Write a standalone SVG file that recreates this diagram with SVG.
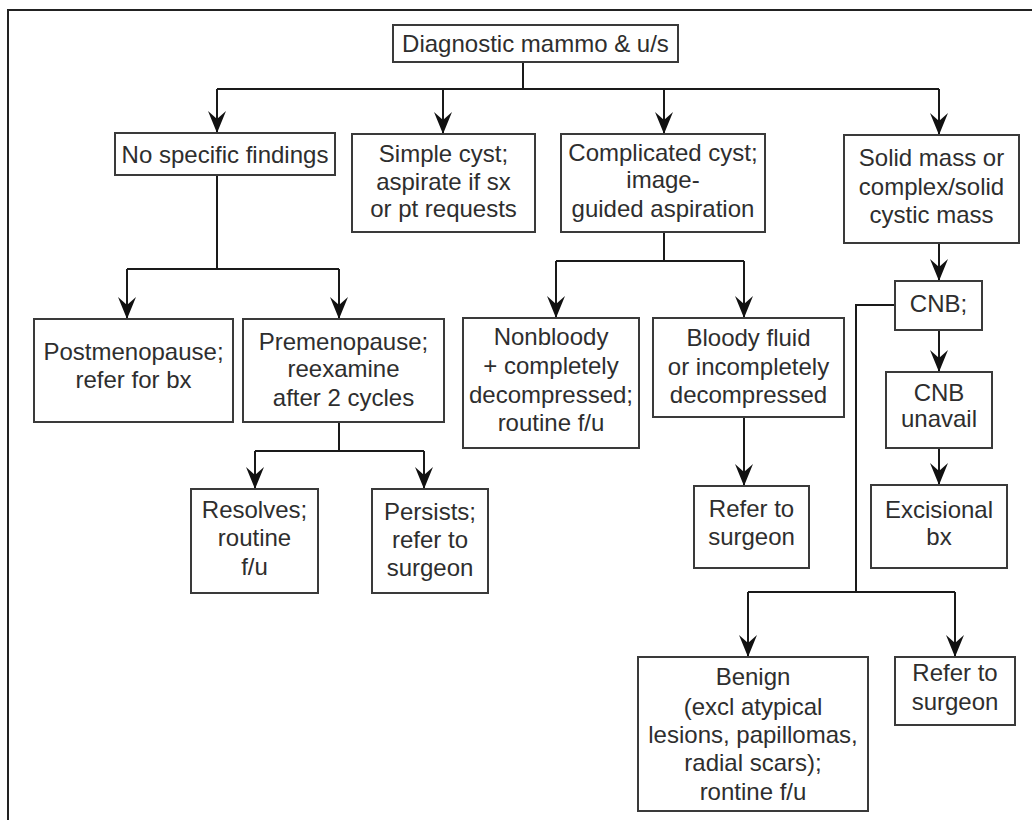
<svg xmlns="http://www.w3.org/2000/svg" width="1032" height="820" viewBox="0 0 1032 820">
<defs>
<marker id="ah" markerUnits="userSpaceOnUse" viewBox="0 0 22 18" markerWidth="22" markerHeight="18" refX="22" refY="9" orient="auto">
<path d="M0,0 L22,9 L0,18 L8,9 Z" fill="#111"/>
</marker>
<style>
.box{fill:#fff;stroke:#3a3a3a;stroke-width:2}
.t{font-family:"Liberation Sans",Arial,sans-serif;font-size:24px;fill:#2e2e2e;text-anchor:middle}
.c{fill:none;stroke:#1a1a1a;stroke-width:2}
.a{fill:none;stroke:#1a1a1a;stroke-width:2;marker-end:url(#ah)}
</style>
</defs>
<rect width="1032" height="820" fill="#fff"/>
<path d="M8,820 V10 H1032" fill="none" stroke="#222" stroke-width="2"/>
<g id="connectors">
<path class="c" d="M523,62 V89 M217,89 H939"/>
<path class="a" d="M217,89 V133"/>
<path class="a" d="M443,89 V134"/>
<path class="a" d="M664,89 V134"/>
<path class="a" d="M939,89 V135"/>
<path class="c" d="M217,175 V269 M127,269 H339"/>
<path class="a" d="M127,269 V319"/>
<path class="a" d="M339,269 V319"/>
<path class="c" d="M339,422 V451 M255,451 H424"/>
<path class="a" d="M255,451 V489"/>
<path class="a" d="M424,451 V489"/>
<path class="c" d="M664,232 V261 M556,261 H744"/>
<path class="a" d="M556,261 V318"/>
<path class="a" d="M744,261 V318"/>
<path class="a" d="M744,417 V486"/>
<path class="a" d="M939,243 V281"/>
<path class="a" d="M939,330 V372"/>
<path class="a" d="M939,448 V485"/>
<path class="c" d="M895,305 H856 V592 M748,592 H955"/>
<path class="a" d="M748,592 V657"/>
<path class="a" d="M955,592 V657"/>
</g>
<g id="n-top"><rect class="box" x="393" y="25" width="285" height="37"/><text class="t" x="535.5" y="52">Diagnostic mammo &amp; u/s</text></g>
<g id="n-nsf"><rect class="box" x="115" y="133" width="220" height="42"/><text class="t" x="225" y="163">No specific findings</text></g>
<g id="n-simple"><rect class="box" x="352" y="134" width="183" height="98"/><text class="t" x="443.5" y="162">Simple cyst;</text><text class="t" x="443.5" y="190">aspirate if sx</text><text class="t" x="443.5" y="217">or pt requests</text></g>
<g id="n-complicated"><rect class="box" x="561" y="134" width="204" height="98"/><text class="t" x="663" y="161">Complicated cyst;</text><text class="t" x="663" y="188">image-</text><text class="t" x="663" y="217">guided aspiration</text></g>
<g id="n-solid"><rect class="box" x="844" y="135" width="175" height="108"/><text class="t" x="931.5" y="166">Solid mass or</text><text class="t" x="931.5" y="195">complex/solid</text><text class="t" x="931.5" y="223">cystic mass</text></g>
<g id="n-post"><rect class="box" x="34" y="319" width="199" height="103"/><text class="t" x="133.5" y="360">Postmenopause;</text><text class="t" x="133.5" y="388">refer for bx</text></g>
<g id="n-pre"><rect class="box" x="243" y="319" width="201" height="103"/><text class="t" x="343.5" y="350">Premenopause;</text><text class="t" x="343.5" y="377">reexamine</text><text class="t" x="343.5" y="406">after 2 cycles</text></g>
<g id="n-nonbloody"><rect class="box" x="463" y="318" width="176" height="130"/><text class="t" x="551" y="345">Nonbloody</text><text class="t" x="551" y="374">+ completely</text><text class="t" x="551" y="403">decompressed;</text><text class="t" x="551" y="431">routine f/u</text></g>
<g id="n-bloody"><rect class="box" x="653" y="318" width="191" height="99"/><text class="t" x="748.5" y="346">Bloody fluid</text><text class="t" x="748.5" y="375">or incompletely</text><text class="t" x="748.5" y="403">decompressed</text></g>
<g id="n-refer1"><rect class="box" x="694" y="486" width="115" height="82"/><text class="t" x="751.5" y="517">Refer to</text><text class="t" x="751.5" y="545">surgeon</text></g>
<g id="n-cnb"><rect class="box" x="895" y="281" width="87" height="49"/><text class="t" x="938.5" y="312">CNB;</text></g>
<g id="n-cnbun"><rect class="box" x="886" y="372" width="106" height="76"/><text class="t" x="939" y="401">CNB</text><text class="t" x="939" y="427">unavail</text></g>
<g id="n-excis"><rect class="box" x="871" y="485" width="136" height="83"/><text class="t" x="939" y="518">Excisional</text><text class="t" x="939" y="545">bx</text></g>
<g id="n-resolves"><rect class="box" x="191" y="489" width="127" height="104"/><text class="t" x="254.5" y="518">Resolves;</text><text class="t" x="254.5" y="546">routine</text><text class="t" x="254.5" y="575">f/u</text></g>
<g id="n-persists"><rect class="box" x="372" y="489" width="116" height="104"/><text class="t" x="430" y="520">Persists;</text><text class="t" x="430" y="548">refer to</text><text class="t" x="430" y="576">surgeon</text></g>
<g id="n-benign"><rect class="box" x="638" y="657" width="230" height="154"/><text class="t" x="753" y="685">Benign</text><text class="t" x="753" y="715">(excl atypical</text><text class="t" x="753" y="743">lesions, papillomas,</text><text class="t" x="753" y="771">radial scars);</text><text class="t" x="753" y="800">rontine f/u</text></g>
<g id="n-refer2"><rect class="box" x="895" y="657" width="120" height="68"/><text class="t" x="955" y="681">Refer to</text><text class="t" x="955" y="710">surgeon</text></g>
</svg>
